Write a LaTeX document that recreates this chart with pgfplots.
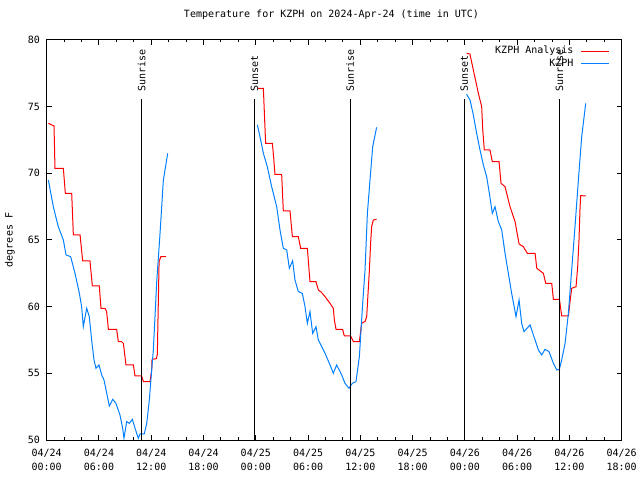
\documentclass[border=0pt]{standalone}
\usepackage{fontspec}
\setmainfont{DejaVu Sans Mono}
\usepackage{pgfplots}
\pgfplotsset{compat=1.18}
\definecolor{gpred}{RGB}{255,0,0}
\definecolor{gpblue}{RGB}{0,128,255}
\newcommand{\gpfont}{\fontsize{10bp}{14bp}\selectfont}
\begin{document}
\begin{tikzpicture}
\path[use as bounding box] (-46.7bp,-40bp) rectangle (593.3bp,440bp);
\begin{axis}[
  at={(0,0)}, anchor=south west,
  scale only axis, width=575bp, height=400bp,
  xmin=0, xmax=66, ymin=50, ymax=80,
  xtick={0,6,...,66},
  minor x tick num=2,
  ytick={50,55,...,80},
  xticklabels={{04/24\\00:00},{04/24\\06:00},{04/24\\12:00},{04/24\\18:00},{04/25\\00:00},{04/25\\06:00},{04/25\\12:00},{04/25\\18:00},{04/26\\00:00},{04/26\\06:00},{04/26\\12:00},{04/26\\18:00}},
  /pgf/number format/assume math mode=true,
  tick align=inside,
  major tick length=5bp, minor tick length=2.5bp,
  axis line style={line width=1bp, black},
  every tick/.style={black, line width=1bp},
  xticklabel style={font=\gpfont, align=center, anchor=north, inner sep=0pt, yshift=-8.4bp},
  yticklabel style={font=\gpfont, anchor=east, inner sep=0pt, xshift=-6.5bp},
  title={Temperature for KZPH on 2024-Apr-24 (time in UTC)},
  title style={font=\gpfont, at={(0.5,1)}, anchor=base, inner sep=0pt, yshift=17bp, xshift=-2.7bp},
  ylabel={degrees F},
  every axis y label/.style={at={(axis description cs:0,0.5)}, xshift=-36.7bp, rotate=90, anchor=center, inner sep=0pt, font=\gpfont},
  legend plot pos=right,
  legend cell align=right,
  legend image code/.code={\draw[#1] (0bp,0bp) -- (28.3bp,0bp);},
  legend style={draw=none, fill=none, font=\gpfont, at={(axis description cs:1,1)}, anchor=north east, xshift=-11.7bp, yshift=-6.35bp, inner sep=0pt, row sep=3.4bp, column sep=7bp, nodes={inner sep=0pt, text height=7.3bp, text depth=2bp}},
]
% KZPH Analysis (red)
\addplot[gpred, line width=1bp] coordinates {
(0.19,73.75) (0.84,73.55) (0.95,70.38) (1.91,70.38) (2.14,68.5) (2.87,68.5) (3.06,65.38) (3.83,65.38) (4.13,63.43) (4.97,63.43) (5.24,61.55) (6.04,61.55) (6.23,59.88) (6.69,59.88) (6.88,59.63) (7.08,58.3) (8.03,58.3) (8.22,57.38) (8.6,57.38) (8.8,57.25) (9.1,55.63) (9.95,55.63) (10.14,54.8) (10.9,54.8) (11.1,54.38) (11.86,54.38) (12.05,55.25) (12.09,56.05) (12.6,56.1) (12.7,56.45) (12.9,63.38) (13.1,63.75) (13.7,63.75)
};
\addlegendentry{KZPH Analysis}
% KZPH (blue)
\addplot[gpblue, line width=1bp] coordinates {
(0.19,69.5) (0.76,67.5) (1.33,66.0) (1.91,65.0) (2.22,63.88) (2.75,63.75) (3.25,62.5) (3.75,61.0) (4.01,60.0) (4.2,58.5) (4.59,59.88) (4.89,59.25) (5.16,57.5) (5.43,56.0) (5.66,55.38) (6.0,55.63) (6.31,54.88) (6.58,54.5) (6.89,53.5) (7.19,52.55) (7.58,53.05) (7.95,52.75) (8.41,51.88) (8.72,50.88) (8.87,50.13) (9.18,51.38) (9.48,51.25) (9.83,51.55) (10.14,50.88) (10.52,50.13) (10.71,50.45) (11.2,50.45) (11.48,51.25) (11.78,53.0) (12.05,55.25) (12.24,56.75) (12.64,62.0) (13.01,65.5) (13.39,69.5) (13.89,71.5)
};
\addlegendentry{KZPH}
\addplot[gpred, line width=1bp, forget plot] coordinates {
(24.22,76.38) (24.87,76.38) (25.0,74.3) (25.13,72.25) (25.9,72.25) (26.05,71.2) (26.2,69.93) (26.97,69.93) (27.16,67.18) (27.93,67.18) (28.2,65.25) (28.88,65.25) (29.15,64.38) (29.92,64.38) (30.22,61.88) (30.91,61.88) (31.18,61.25) (31.5,61.1) (31.95,60.75) (32.52,60.25) (32.9,59.88) (33.02,59.0) (33.21,58.3) (33.97,58.3) (34.16,57.8) (34.89,57.8) (35.2,57.38) (35.89,57.38) (36.15,58.75) (36.55,58.9) (36.73,59.25) (37.03,62.63) (37.18,64.75) (37.3,66.0) (37.49,66.5) (37.87,66.55)
};
\addplot[gpblue, line width=1bp, forget plot] coordinates {
(24.18,73.63) (24.48,72.75) (24.87,71.5) (25.32,70.5) (25.82,69.0) (26.4,67.5) (26.78,65.75) (27.16,64.38) (27.55,64.25) (27.85,62.88) (28.23,63.45) (28.5,62.0) (28.88,61.13) (29.34,61.0) (29.65,60.0) (29.92,58.75) (30.22,59.63) (30.53,58.0) (30.91,58.5) (31.18,57.5) (31.95,56.5) (32.52,55.63) (32.9,55.0) (33.28,55.63) (33.86,54.88) (34.24,54.25) (34.7,53.88) (35.08,54.25) (35.5,54.38) (35.89,56.25) (36.27,60.25) (36.54,62.75) (36.81,67.0) (37.11,69.5) (37.42,72.0) (37.87,73.45)
};
\addplot[gpred, line width=1bp, forget plot] coordinates {
(48.2,79.0) (48.58,78.95) (48.97,77.75) (49.55,76.0) (49.93,75.0) (50.04,73.38) (50.23,71.75) (50.88,71.75) (51.15,70.88) (51.92,70.88) (52.15,69.25) (52.61,69.0) (53.18,67.5) (53.76,66.38) (54.22,64.7) (54.71,64.5) (55.17,64.0) (56.06,64.0) (56.25,62.88) (57.01,62.5) (57.28,61.75) (57.97,61.75) (58.16,60.55) (58.85,60.55) (58.92,60.25) (59.11,59.3) (59.88,59.3) (60.07,60.38) (60.26,61.38) (60.76,61.5) (60.95,63.0) (61.1,65.0) (61.21,67.25) (61.29,68.33) (61.87,68.3)
};
\addplot[gpblue, line width=1bp, forget plot] coordinates {
(48.2,75.93) (48.59,75.5) (48.97,74.38) (49.35,73.0) (49.74,71.75) (50.12,70.63) (50.5,69.75) (50.81,68.5) (51.15,67.0) (51.46,67.5) (51.84,66.38) (52.23,65.75) (52.61,64.0) (52.99,62.5) (53.37,61.0) (53.87,59.25) (54.22,60.5) (54.52,58.75) (54.79,58.13) (55.48,58.63) (55.86,57.88) (56.44,56.75) (56.82,56.38) (57.2,56.8) (57.66,56.63) (58.16,55.75) (58.54,55.25) (58.85,55.3) (59.11,56.0) (59.5,57.25) (59.88,59.5) (60.26,62.75) (60.64,66.0) (61.03,69.5) (61.41,72.75) (61.87,75.25)
};
% sunrise / sunset markers
\addplot[black, line width=1bp, forget plot] coordinates {(10.9,50) (10.9,75.6)};
\addplot[black, line width=1bp, forget plot] coordinates {(23.85,50) (23.85,75.6)};
\addplot[black, line width=1bp, forget plot] coordinates {(34.83,50) (34.83,75.6)};
\addplot[black, line width=1bp, forget plot] coordinates {(47.93,50) (47.93,75.6)};
\addplot[black, line width=1bp, forget plot] coordinates {(58.84,50) (58.84,75.6)};
\node[rotate=90, anchor=west, inner sep=0pt, font=\gpfont] at (axis cs:10.9,76.1) {Sunrise};
\node[rotate=90, anchor=west, inner sep=0pt, font=\gpfont] at (axis cs:23.85,76.1) {Sunset};
\node[rotate=90, anchor=west, inner sep=0pt, font=\gpfont] at (axis cs:34.83,76.1) {Sunrise};
\node[rotate=90, anchor=west, inner sep=0pt, font=\gpfont] at (axis cs:47.93,76.1) {Sunset};
\node[rotate=90, anchor=west, inner sep=0pt, font=\gpfont] at (axis cs:58.84,76.1) {Sunrise};
\end{axis}
\end{tikzpicture}
\end{document}
